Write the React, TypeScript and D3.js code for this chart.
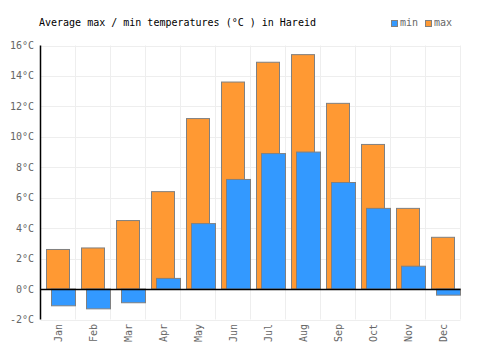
import React from 'react';
import * as d3 from 'd3';

const months = ['Jan', 'Feb', 'Mar', 'Apr', 'May', 'Jun', 'Jul', 'Aug', 'Sep', 'Oct', 'Nov', 'Dec'];
const maxTemps = [2.6, 2.7, 4.5, 6.4, 11.2, 13.6, 14.9, 15.4, 12.2, 9.5, 5.3, 3.4];
const minTemps = [-1.1, -1.3, -0.9, 0.7, 4.3, 7.2, 8.9, 9.0, 7.0, 5.3, 1.5, -0.4];
const yTicks = [-2, 0, 2, 4, 6, 8, 10, 12, 14, 16];

const width = 500;
const height = 350;
const left = 40.5;
const right = 460.5;
const top = 45.5;
const bottom = 319.5;
const font = '"DejaVu Sans Mono", monospace';

const App: React.FC = () => {
  const x = d3.scaleBand<string>().domain(months).range([left, right]).padding(0);
  const y = d3.scaleLinear().domain([-2, 16]).range([bottom, top]);
  const bw = x.bandwidth();

  return (
    <svg
      width={width}
      height={height}
      style={{ position: 'absolute', left: 0, top: 0, background: '#fff' }}
    >
      {/* grid */}
      <g stroke="#eeeeee" strokeWidth={1}>
        {yTicks.map(t => (
          <line key={'h' + t} x1={left} x2={right} y1={Math.round(y(t)) + 0.5} y2={Math.round(y(t)) + 0.5} />
        ))}
        {months.map(m => (
          <line key={'v' + m} x1={x(m)! + bw} x2={x(m)! + bw} y1={top} y2={bottom} />
        ))}
      </g>

      {/* max bars */}
      <g fill="#ff9933" stroke="#808080" strokeWidth={1}>
        {months.map((m, i) => {
          const y0 = y(0);
          const y1 = y(maxTemps[i]);
          return (
            <rect
              key={'max' + m}
              x={x(m)! + 6}
              y={Math.min(y0, y1)}
              width={bw - 12}
              height={Math.abs(y1 - y0)}
            />
          );
        })}
      </g>

      {/* min bars */}
      <g fill="#3399ff" stroke="#808080" strokeWidth={1}>
        {months.map((m, i) => {
          const y0 = y(0);
          const y1 = y(minTemps[i]);
          return (
            <rect
              key={'min' + m}
              x={x(m)! + 11}
              y={Math.min(y0, y1)}
              width={bw - 11}
              height={Math.abs(y1 - y0)}
            />
          );
        })}
      </g>

      {/* axes */}
      <line x1={left} x2={left} y1={top} y2={bottom} stroke="#000" strokeWidth={1.5} />
      <line x1={left} x2={right} y1={Math.round(y(0)) + 0.5} y2={Math.round(y(0)) + 0.5} stroke="#000" strokeWidth={1.5} />

      {/* y tick labels */}
      <g fontFamily={font} fontSize={10} fill="#666" textAnchor="end">
        {yTicks.map(t => (
          <text key={'yl' + t} x={34} y={y(t)} dy="0.35em">
            {`${t}°C`}
          </text>
        ))}
      </g>

      {/* x tick labels */}
      <g fontFamily={font} fontSize={10} fill="#666" textAnchor="end">
        {months.map(m => {
          const cx = x(m)! + bw / 2;
          return (
            <text key={'xl' + m} transform={`translate(${cx + 3.5},324) rotate(-90)`}>
              {m}
            </text>
          );
        })}
      </g>

      {/* title */}
      <text x={39} y={26} fontFamily={font} fontSize={10} fill="#000">
        Average max / min temperatures (°C ) in Hareid
      </text>

      {/* legend */}
      <g fontFamily={font} fontSize={10} fill="#666">
        <rect x={391.5} y={20.5} width={6} height={6} fill="#3399ff" stroke="#808080" />
        <text x={400} y={26}>min</text>
        <rect x={425.5} y={20.5} width={6} height={6} fill="#ff9933" stroke="#808080" />
        <text x={434} y={26}>max</text>
      </g>
    </svg>
  );
};

export default App;
